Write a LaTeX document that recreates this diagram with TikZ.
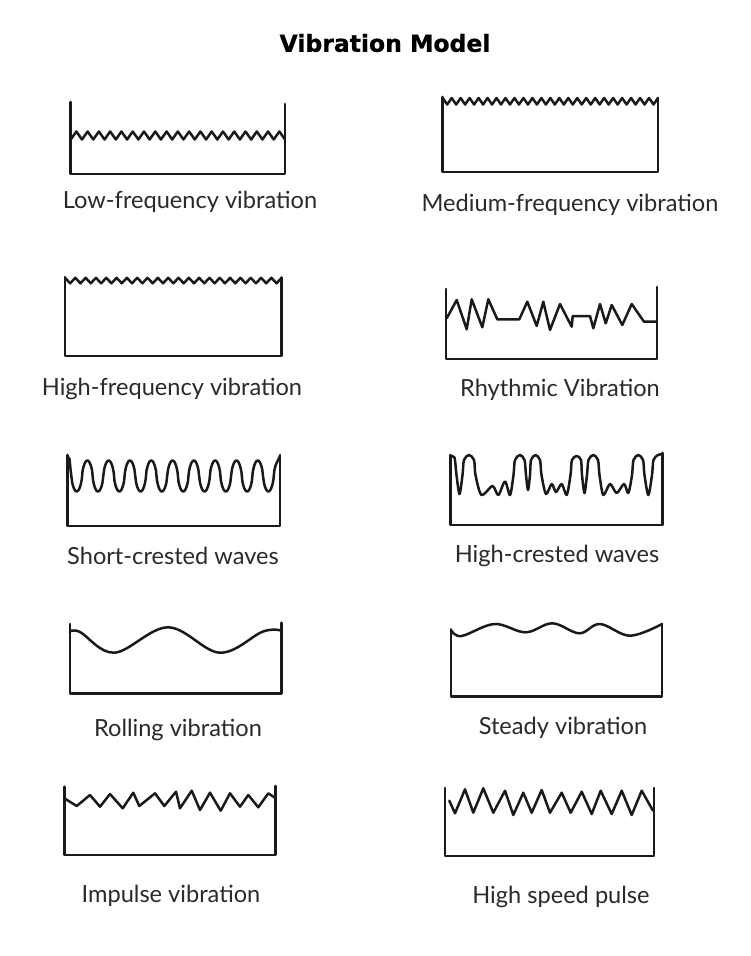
\documentclass[tikz,border=0pt]{standalone}
\usepackage{fontspec}
\setmainfont{Lato}
\newfontfamily\titlefont[BoldFeatures={FakeBold=0.8}]{DejaVu Sans}
\definecolor{ink}{HTML}{1A1A1A}
\definecolor{txt}{HTML}{2A2A2A}
\begin{document}
\begin{tikzpicture}[x=1pt,y=-1pt,
  wall/.style={draw=ink, line width=2.6pt, line join=round, line cap=round},
  wave/.style={draw=ink, line width=2.5pt, line join=round, line cap=round},
  lbl/.style={font=\fontsize{23.6}{26}\selectfont, text=txt, inner sep=0pt, anchor=center},
  ttl/.style={font=\titlefont\bfseries\fontsize{23.5}{26}\selectfont, text=black, inner sep=0pt, anchor=center}]
\useasboundingbox (0,0) rectangle (750,956);
\fill[white] (0,0) rectangle (750,956);

\node[ttl] (title) at (385,43) {Vibration Model};

% 1 Low-frequency
\draw[wall] (70.7,102) -- (70.7,174) -- (285,174) -- (285,104);
\draw[wave] plot[domain=0:38, samples=39] ({70.7 + \x*(285-70.7)/38}, {139.5 - 8*mod(round(\x),2)});
\node[lbl] (l1) at (190,202) {Low-frequency vibration};

% 2 Medium-frequency
\draw[wall] (442.7,97) -- (442.7,172) -- (658,172) -- (658,98);
\draw[wave] plot[domain=0:48, samples=49] ({442.7 + \x*(658-442.7)/48}, {98 + 6.5*mod(round(\x),2)});
\node[lbl] (l2) at (570,205) {Medium-frequency vibration};

% 3 High-frequency
\draw[wall] (65,277) -- (65,356) -- (281.7,356) -- (281.7,277.5);
\draw[wave] plot[domain=0:42, samples=43] ({65 + \x*(281.7-65)/42}, {277.8 + 5.5*mod(round(\x),2)});
\node[lbl] (l3) at (172,389) {High-frequency vibration};

% 4 Rhythmic
\draw[wall] (446,289) -- (446,359) -- (657,359) -- (657,287);
\draw[wave] (446.7,318.3) -- (456.7,300) -- (466.7,329.3) -- (471.7,299.3) -- (482.3,327.3)
  -- (488.3,299.3) -- (497.3,319.3) -- (519.3,319.3) -- (527.3,301.7) -- (536.7,326)
  -- (543.3,301.7) -- (550,330) -- (560,304) -- (571.7,326.7) -- (572.7,316) -- (590,316)
  -- (593.3,328.3) -- (600,304) -- (605.7,323.3) -- (611.7,305) -- (622.3,325)
  -- (631.7,304) -- (644,321.7) -- (657,321.7);
\node[lbl] (l4) at (560,390) {Rhythmic Vibration};

% 5 Short-crested
\draw[wall] (67.3,455) -- (67.3,526) -- (280,526) -- (280,455);
\draw[wave] (67.3,456) -- (69.5,459) -- plot[domain=-0.29:9.4, samples=240, variable=\t]
  ({76.7+21.3*\t}, {476 + 15.5*cos(360*\t)/(abs(cos(360*\t))+0.002)^0.4}) -- (280,456);
\node[lbl] (l5) at (173,556) {Short-crested waves};

% 6 High-crested
\draw[wall] (450.7,455) -- (450.7,525) -- (662.7,525) -- (662.7,453);
\draw[wave] plot[smooth, tension=0.5] coordinates {(450.7,456.5) (454.5,457.5) (456.5,475)
  (459.5,494) (462.5,475) (464,460) (469,455) (474,460) (475.5,475) (481.5,495)
  (492.5,486) (498.3,495) (505,481.5) (510,495) (513.5,475) (515,460) (520,455) (524.5,460)
  (526,475) (528,490) (530,475) (531,460) (535.5,455) (540,460) (541.5,475) (546,494)
  (551.7,484) (556,492) (561.7,484) (566.7,495) (570.5,475) (572,460) (576.7,456) (581,460)
  (582,475) (584.5,493) (587,475) (588.5,460) (593.3,455) (598,460) (599.5,475) (603.3,495)
  (610,484) (616.7,493) (624,484) (628.3,493) (632,475) (633.5,460) (638.3,455) (643,460)
  (644.5,475) (648.3,495) (652,475) (653.5,460) (658,455) (662.7,454)};
\node[lbl] (l6) at (557,556) {High-crested waves};

% 7 Rolling
\draw[wall] (69.8,624) -- (69.8,693.3) -- (281.7,693.3) -- (281.7,622.7);
\draw[wave] plot[smooth, tension=0.6] coordinates {(69.8,631.7) (80,632) (114.4,652.7)
  (168,627.3) (219.8,652.7) (263,631.5) (281.7,630.7)};
\node[lbl] (l7) at (178,730) {Rolling vibration};

% 8 Steady
\draw[wall] (451,629.3) -- (451,696.7) -- (662,696.7) -- (662,624);
\draw[wave] plot[smooth, tension=0.6] coordinates {(451,630) (461.5,636) (494.5,624)
  (525.5,632.3) (552.4,623.3) (579.3,633.3) (600,624) (630,635.7) (662,624)};
\node[lbl] (l8) at (563,728) {Steady vibration};

% 9 Impulse
\draw[wall] (64.3,786.7) -- (64.3,855) -- (275.7,855) -- (275.7,786);
\draw[wave] (64.3,798.3) -- (76.7,806) -- (90,795) -- (100,806.7) -- (110,794) -- (122.7,808.3)
  -- (133.3,792.7) -- (139.3,806) -- (155,793.3) -- (164.3,806) -- (176,791.7) -- (180,808.3)
  -- (191.7,790.7) -- (200,810) -- (210,792.7) -- (220.7,810.7) -- (230,793.3) -- (240,806.7)
  -- (248.3,795) -- (258.3,807.3) -- (268.3,793.3) -- (275.7,798.3);
\node[lbl] (l9) at (171,896) {Impulse vibration};

% 10 High speed pulse
\draw[wall] (445,788) -- (445,856) -- (654,856) -- (654,788);
\draw[wave] (449.3,800.7) -- (455,813.3) -- (465,789.3) -- (473.3,812.7) -- (483.3,788.3)
  -- (493.3,812.7) -- (505,790.7) -- (513.3,815) -- (523.3,792.7) -- (531.7,812.7)
  -- (541.7,790) -- (550,812.7) -- (561.7,792.7) -- (570.7,812.7) -- (581.7,791.7)
  -- (591.7,814) -- (600.7,790.7) -- (611.7,814) -- (621.7,790.7) -- (631.7,815)
  -- (641.7,790.7) -- (653,810.7);
\node[lbl] (l10) at (561,897) {High speed pulse};
\end{tikzpicture}
\end{document}
